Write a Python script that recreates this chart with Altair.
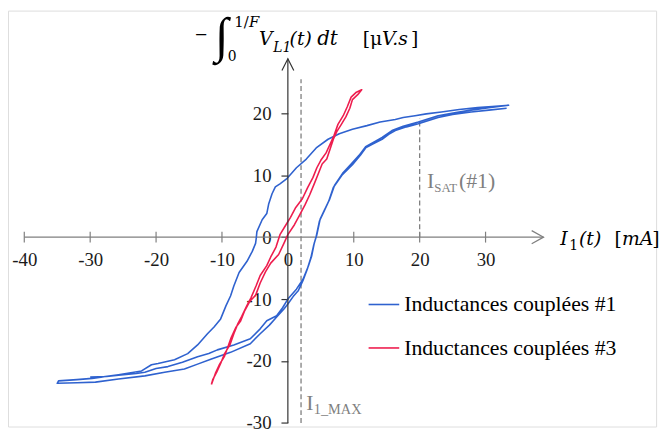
import altair as alt
import pandas as pd

# ------------------------------------------------------------------ data
series_names = ["Inductances couplées #1", "Inductances couplées #3"]
series_colors = ["#2F62CF", "#EE1D4E"]

# coupled inductors #1 : middle ascending trace, descending trace, lower ascending trace
blue_b_x = [-30.0, -27.5, -25.7, -23.0, -21.7, -20.0, -18.2, -16.0, -13.7, -12.0, -10.7, -8.2, -5.7, -4.2,
            -3.2, -1.7, -0.8, 0.0, 1.3, 2.3, 3.1, 3.6, 4.0, 4.4, 4.9, 5.6, 6.3, 7.1, 8.3, 9.6, 10.8, 11.8,
            13.3, 14.3, 15.8, 17.5, 19.8, 22.8, 25.5, 27.8, 30.5, 33.5]
blue_b_y = [-22.6, -22.5, -22.3, -22.0, -21.8, -21.2, -20.9, -20.2, -19.3, -18.8, -18.2, -17.4, -16.4, -14.8,
            -13.5, -12.7, -11.4, -10.0, -8.4, -6.8, -4.7, -3.1, -1.0, 0.4, 2.9, 4.5, 6.0, 8.4, 10.3, 11.8, 13.2, 14.6,
            15.5, 16.1, 17.2, 17.9, 18.6, 19.6, 20.1, 20.5, 20.9, 21.3]
blue_d_x = [31.0, 28.8, 26.0, 23.3, 21.0, 19.3, 17.5, 16.3, 14.0, 12.0, 9.8, 7.8, 6.1, 4.3, 2.8, 1.3, 0.8,
            -0.2, -1.2, -1.9, -2.4, -2.9, -3.2, -3.9, -4.7, -4.8, -4.9, -5.4, -6.2, -7.4, -8.2, -8.7, -9.4,
            -10.2, -11.2, -12.2, -13.7, -15.2, -17.2, -19.7, -20.7, -22.2, -25.7, -29.7, -32.0, -34.8]
blue_d_y = [21.1, 20.9, 20.6, 20.2, 19.9, 19.6, 19.3, 19.0, 18.6, 18.0, 17.4, 16.7, 15.8, 14.4, 12.6, 11.2, 10.6,
            9.4, 8.6, 8.1, 7.0, 5.4, 3.8, 2.8, 0.9, -0.2, -1.0, -2.3, -3.9, -5.7, -7.9, -9.5, -11.1,
            -13.2, -14.5, -15.6, -17.4, -18.8, -19.8, -20.4, -20.6, -21.6, -22.2, -22.8, -23.0, -23.2]
blue_a_x = [-35.0, -32.0, -29.2, -25.7, -21.7, -18.7, -15.7, -13.7, -11.7, -8.7, -5.7, -4.2, -2.8, -1.7,
            -0.6, 0.0, 0.8, 1.6, 2.3, 3.0, 3.5, 3.9, 4.3, 4.8, 5.5, 6.2, 6.9, 8.2, 9.8, 11.0, 11.8, 12.8,
            14.3, 15.3, 16.3, 18.0, 19.8, 22.8, 25.0, 27.8, 30.5, 33.2]
blue_a_y = [-23.6, -23.5, -23.4, -22.9, -22.4, -21.8, -21.3, -20.5, -19.7, -18.6, -17.2, -15.6, -14.2, -12.9,
            -11.6, -10.8, -9.6, -8.6, -7.0, -5.0, -3.3, -1.4, 0.1, 2.6, 4.2, 5.8, 8.0, 10.0, 11.7, 13.2, 14.4, 15.0,
            15.8, 16.6, 17.2, 17.8, 18.3, 19.3, 19.8, 20.2, 20.5, 20.8]

# coupled inductors #3 : ascending then descending branch
red_up_x = [-11.6, -11.0, -10.4, -9.6, -9.2, -8.6, -7.9, -7.2, -6.6, -5.8, -4.9, -4.2, -3.4, -2.6, -1.4,
            -0.6, 0.0, 1.0, 1.8, 2.6, 3.3, 4.0, 4.6, 5.2, 5.9, 6.4, 6.9, 7.4, 8.0, 8.8, 9.4, 9.8, 10.6, 11.2]
red_up_y = [-23.8, -22.0, -20.6, -19.2, -18.0, -16.2, -14.6, -13.6, -12.0, -10.4, -9.4, -7.4, -5.6, -4.2, -2.8,
            -1.0, 0.4, 2.0, 3.6, 5.2, 6.8, 8.6, 10.2, 11.8, 12.6, 14.2, 15.8, 17.0, 18.0, 19.4, 20.8, 22.2, 23.0, 23.8]
red_dn_x = [10.4, 9.6, 9.0, 8.4, 7.6, 7.0, 6.4, 5.8, 5.0, 4.4, 3.8, 3.0, 2.2, 1.2, 0.4, -0.4, -1.2, -1.8,
            -2.6, -3.2, -4.2, -4.8, -5.6, -6.2, -7.0, -7.6, -8.2, -8.8, -9.6, -10.2, -10.8, -11.4, -11.6]
red_dn_y = [23.4, 22.6, 21.0, 19.6, 18.2, 16.4, 15.0, 13.6, 12.4, 11.2, 9.6, 8.0, 6.2, 4.8, 3.2, 1.8, 0.4, -1.6,
            -3.2, -4.6, -6.2, -7.8, -9.8, -11.0, -12.8, -14.0, -15.6, -17.4, -18.8, -20.4, -21.8, -23.0, -23.8]

x_tick_values = [-40, -30, -20, -10, 0, 10, 20, 30]
y_tick_values = [-30, -20, -10, 0, 10, 20]
x_axis_span = [-40, 38.8]
y_axis_span = [-30, 28.8]
i_max_value = 2.0
i_max_span = [-30, 25.5]
i_sat_value = 20.0
i_sat_span = [0, 19.2]

# ------------------------------------------------------------------ tables
blue_x = blue_b_x + blue_d_x + blue_a_x
blue_y = blue_b_y + blue_d_y + blue_a_y
red_x = red_up_x + red_dn_x
red_y = red_up_y + red_dn_y
curves = pd.DataFrame({
    "x": blue_x + red_x,
    "y": blue_y + red_y,
    "series": [series_names[0]] * len(blue_x) + [series_names[1]] * len(red_x),
    "order": list(range(len(blue_x))) + list(range(len(red_x))),
})

W, H = 656, 421
xs = alt.Scale(domain=[-42.47, 55.88], nice=False, zero=False)
ys = alt.Scale(domain=[-30.57, 36.57], nice=False, zero=False)

SERIF = "Liberation Serif"
MATH = "DejaVu Serif"
GRAY = "#7f7f7f"
DARK = "#333333"

x_axis = alt.Axis(values=x_tick_values, orient="bottom", offset=-191.7, domain=False, ticks=False,
                  tickSize=0, grid=False, labelFont=SERIF, labelFontSize=19, labelColor="#1a1a1a",
                  labelPadding=23, labelBaseline="middle", labelOverlap=False, labelFlush=False,
                  labelExpr="'' + datum.value", title=None)
y_axis = alt.Axis(values=y_tick_values, orient="left", offset=-283.3, domain=False, ticks=True,
                  tickSize=7, tickColor=DARK, tickWidth=1.2, grid=False, labelFont=SERIF,
                  labelFontSize=19, labelColor="#1a1a1a", labelPadding=10, labelOverlap=False,
                  labelFlush=False, labelExpr="'' + datum.value", title=None)


def X(field):
    return alt.X(field, type="quantitative", scale=xs, axis=x_axis)


def Y(field):
    return alt.Y(field, type="quantitative", scale=ys, axis=y_axis)


# axis lines
xline = alt.Chart(pd.DataFrame({"x": [x_axis_span[0]], "x2": [x_axis_span[1]], "y": [0]})).mark_rule(
    color=GRAY, strokeWidth=1.3).encode(x=X("x"), x2="x2", y=Y("y"))
yline = alt.Chart(pd.DataFrame({"x": [0], "y": [y_axis_span[0]], "y2": [y_axis_span[1]]})).mark_rule(
    color=DARK, strokeWidth=1.2).encode(x=X("x"), y=Y("y"), y2="y2")
xarrow = alt.Chart(pd.DataFrame({"x": [x_axis_span[1]], "y": [0]})).mark_point(
    shape="M-1,-0.55L0,0L-1,0.55", filled=False, size=576, color=GRAY, strokeWidth=1.2, opacity=1
).encode(x=X("x"), y=Y("y"))
yarrow = alt.Chart(pd.DataFrame({"x": [0], "y": [y_axis_span[1]]})).mark_point(
    shape="M-0.5,1L0,0L0.5,1", filled=False, size=576, color=DARK, strokeWidth=1.2, opacity=1
).encode(x=X("x"), y=Y("y"))
xticks = alt.Chart(pd.DataFrame({"x": [v for v in x_tick_values if v != 0],
                                 "y": [0] * (len(x_tick_values) - 1)})).mark_tick(
    orient="vertical", size=11, thickness=1.2, color=GRAY, opacity=1).encode(x=X("x"), y=Y("y"))

# dashed markers
dashes = alt.Chart(pd.DataFrame({"x": [i_max_value, i_sat_value],
                                 "y": [i_max_span[0], i_sat_span[0]],
                                 "y2": [i_max_span[1], i_sat_span[1]]})).mark_rule(
    color=GRAY, strokeWidth=1.3, strokeDash=[5, 3]).encode(x=X("x"), y=Y("y"), y2="y2")

# curves
lines = alt.Chart(curves).mark_line(strokeWidth=1.6, strokeJoin="round").encode(
    x=X("x"), y=Y("y"), order="order:Q", detail="series:N",
    color=alt.Color("series:N", scale=alt.Scale(domain=series_names, range=series_colors),
                    legend=alt.Legend(orient="none", legendX=364, legendY=281, direction="vertical",
                                      title=None, symbolType="stroke", symbolSize=961,
                                      symbolStrokeWidth=1.6, labelFont=SERIF, labelFontSize=22,
                                      labelColor="#000000", labelOffset=4, labelLimit=400,
                                      rowPadding=16, padding=0)))

one = alt.Data(values=[{"k": 1}])


def txt(t, x, y, size, font=SERIF, italic=False, color="#000000", align="left", baseline="alphabetic"):
    return alt.Chart(one).mark_text(text=t, font=font, fontSize=size, fontStyle="italic" if italic else "normal",
                                    color=color, align=align, baseline=baseline).encode(
        x=alt.value(x), y=alt.value(y))


texts = [
    # y axis title
    txt("\u2212", 195.5, 25, 22, align="center", baseline="middle"),
    txt("\u222b", 216, 27, 50, font=SERIF, align="center", baseline="middle"),
    txt("1/", 229, 17, 15, font=MATH),
    txt("F", 244, 17, 15, font=MATH, italic=True),
    txt("0", 227, 51, 14, font=MATH, align="center"),
    txt("V", 254, 35, 19, font=MATH, italic=True),
    txt("L1", 268.5, 42, 14, font=MATH, italic=True),
    txt("(t)", 285, 35, 19, font=MATH, italic=True),
    txt("dt", 313, 35, 20, font=MATH, italic=True),
    txt("[\u03bc", 359, 35, 19, font=MATH),
    txt("V.s", 378.6, 35, 19, font=MATH, italic=True),
    txt("]", 408, 35, 19, font=MATH),
    # x axis title
    txt("I", 559, 237, 19, font=MATH, italic=True),
    txt("1", 568, 242, 14, font=MATH),
    txt("(t)", 578, 237, 19, font=MATH, italic=True),
    txt("[", 614, 237, 19, font=MATH),
    txt("mA", 621.5, 237, 19, font=MATH, italic=True),
    txt("]", 652, 237, 19, font=MATH),
    # annotations
    txt("I", 424, 180, 22, color=GRAY),
    txt("SAT", 431.5, 184, 13, color=GRAY),
    txt("(#1)", 456.5, 180, 22, color=GRAY),
    txt("I", 302, 404, 22, color=GRAY),
    txt("1_MAX", 309.5, 408, 14.5, color=GRAY),
]

chart = alt.layer(dashes, xline, xticks, xarrow, lines, yline, yarrow, *texts).properties(
    width=W, height=H, autosize=alt.AutoSizeParams(type="none"),
    padding={"left": 0, "top": 0, "right": 8, "bottom": 8}
).configure_view(stroke=None).configure(background="white")

chart.save("out.html", embed_options={"renderer": "svg", "actions": False})
